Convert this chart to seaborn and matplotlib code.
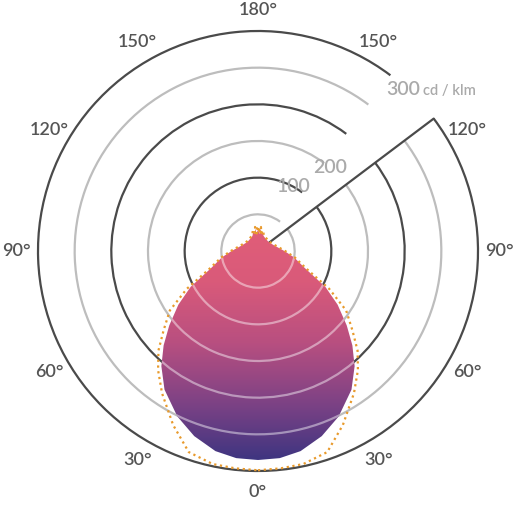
import numpy as np
import matplotlib.pyplot as plt
import seaborn as sns
from matplotlib.colors import LinearSegmentedColormap
from matplotlib.patches import Polygon, Arc

sns.set_style("white")
plt.rcParams['font.family'] = ['Lato', 'DejaVu Sans']

# polar intensity data (cd/klm), angle 0 = straight down
angles = [0, 6, 12, 19, 26, 34, 40, 45, 50, 56, 62, 70, 80, 90, 110, 130, 150, 160, 166, 170, 173, 176, 178, 180]
fill_cd = [285, 284, 279, 267, 251, 228, 205, 182, 158, 131, 104, 68, 50, 36, 23, 19, 20, 22, 27, 24, 31, 23, 29, 26]
dotted_cd = [299, 298, 297, 290, 264, 234, 212, 192, 168, 145, 110, 70, 51, 37, 24, 20, 21, 23, 29, 25, 33, 24, 31, 28]

rings = [50, 100, 150, 200, 250, 300]
ring_labels = ['', '100', '200', '300', '', '']
angle_ticks = [0, 30, 60, 90, 120, 150, 180]
c_plane_angle = 127
gap_end = 143


def to_xy(ang, r):
    # both halves mirrored
    a = np.deg2rad(np.concatenate([ang, -np.array(ang[::-1])]))
    rr = np.concatenate([r, r[::-1]])
    return rr * np.sin(a), -rr * np.cos(a)


k = 220 / 300
cy = 251
fig = plt.figure(figsize=(5.15, 5.08), dpi=100)
ax = fig.add_axes([0, 0, 1, 1])
ax.set_xlim(-258 / k, 257 / k)
ax.set_ylim(-(508 - cy) / k, cy / k)
ax.set_aspect('equal')
ax.axis('off')

# rings as arcs, open in the wedge that holds the labels
t1, t2 = gap_end - 90, 360 + c_plane_angle - 90
for i, r in enumerate(rings):
    col = '#bdbdbd' if i % 2 == 0 else '#4a4a4a'
    ax.add_patch(Arc((0, 0), 2 * r, 2 * r, theta1=t1, theta2=t2, ec=col, lw=1.6, zorder=1))
a = np.deg2rad(c_plane_angle)
ax.plot([0, 300 * np.sin(a)], [0, -300 * np.cos(a)], color='#4a4a4a', lw=1.6, zorder=1)

# gradient fill clipped to the distribution
x, y = to_xy(np.array(angles), np.array(fill_cd))
poly = Polygon(np.column_stack([x, y]), closed=True, fc='none', ec='none')
ax.add_patch(poly)
cmap = LinearSegmentedColormap.from_list('lum', ['#3a3480', '#7d4285', '#b84f80', '#d95a7a', '#e25e78'])
grad = np.linspace(0, 1, 256).reshape(-1, 1)
im = ax.imshow(grad, cmap=cmap, origin='lower', aspect='auto',
               extent=(-150, 150, -290, 40), zorder=2)
im.set_clip_path(poly)

for r in rings:
    c = Arc((0, 0), 2 * r, 2 * r, theta1=t1, theta2=t2, ec='white', lw=1.6, alpha=0.45, zorder=3)
    ax.add_patch(c)
    c.set_clip_path(poly)

xd, yd = to_xy(np.array(angles), np.array(dotted_cd))
ax.plot(np.append(xd, xd[0]), np.append(yd, yd[0]), color='#e89a2c', lw=1.6,
        ls=(0, (1, 1.6)), zorder=4)

for t in angle_ticks:
    for s in ([1] if t in (0, 180) else [1, -1]):
        aa = np.deg2rad(t) * s
        ax.text(329 * np.sin(aa), -329 * np.cos(aa), f'{t}°', ha='center', va='center',
                fontsize=13, color='#555555', fontweight='semibold')

label_angles = [151, 139, 133]
for r, lab, la in zip(rings[1:4], ring_labels[1:4], label_angles):
    aa = np.deg2rad(la)
    if lab == '300':
        px, py = 322 * np.sin(aa), -322 * np.cos(aa)
        ax.text(px - 14, py, '300', ha='right', va='center',
                fontsize=14, color='#aaaaaa', fontweight='semibold')
        ax.text(px - 10, py - 2, 'cd / klm', ha='left',
                va='center', fontsize=10.5, color='#aaaaaa', fontweight='semibold')
    else:
        ax.text(r * np.sin(aa), -r * np.cos(aa), lab, ha='center', va='center',
                fontsize=14, color='#aaaaaa', fontweight='semibold')

fig.savefig('out.png', dpi=100)
